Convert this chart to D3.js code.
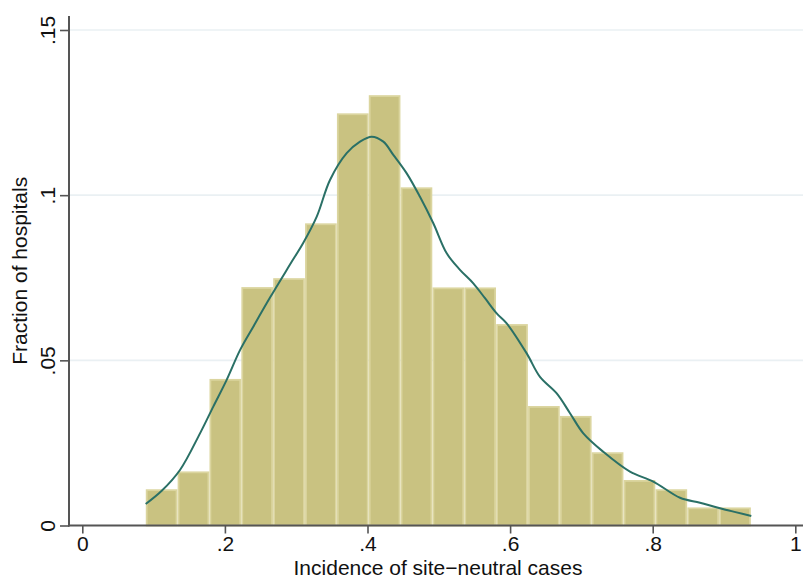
<!DOCTYPE html>
<html>
<head>
<meta charset="utf-8">
<script src="https://cdn.jsdelivr.net/npm/d3@7/dist/d3.min.js"></script>
<style>
  html, body { margin: 0; padding: 0; background: #fff; }
  svg { display: block; font-family: "Liberation Sans", Arial, Helvetica, sans-serif; }
</style>
</head>
<body>
<svg id="chart" width="803" height="579"></svg>
<script>
// Histogram of hospital-level incidence of site-neutral cases (fraction per bin)
const binStart = 0.0889;
const binWidth = 0.04468;
const binFractions = [
  0.0110, 0.0164, 0.0444, 0.0722, 0.0749, 0.0915, 0.1248, 0.1303, 0.1024, 0.0721,
  0.0721, 0.0610, 0.0362, 0.0332, 0.0222, 0.0138, 0.0110, 0.0055, 0.0055
];

// Kernel density overlay, scaled to the fraction axis
const densityX = [
  0.0889, 0.1114, 0.1370, 0.1651, 0.1837, 0.2025, 0.2212, 0.2398, 0.2633, 0.2913,
  0.3100, 0.3288, 0.3474, 0.3708, 0.3895, 0.4059, 0.4222, 0.4362, 0.4550, 0.4736,
  0.4923, 0.5111, 0.5297, 0.5484, 0.5648, 0.5812, 0.5952, 0.6233, 0.6419, 0.6654,
  0.6840, 0.7027, 0.7307, 0.7681, 0.8008, 0.8383, 0.8663, 0.8944, 0.9383
];
const densityY = [
  0.0065, 0.0105, 0.0168, 0.0279, 0.0360, 0.0441, 0.0531, 0.0602, 0.0690, 0.0790,
  0.0856, 0.0935, 0.1046, 0.1127, 0.1162, 0.1177, 0.1162, 0.1122, 0.1066, 0.0995,
  0.0915, 0.0824, 0.0774, 0.0733, 0.0688, 0.0642, 0.0612, 0.0521, 0.0450, 0.0400,
  0.0340, 0.0279, 0.0223, 0.0163, 0.0133, 0.0084, 0.0069, 0.0052, 0.0029
];

const xTicks = [0, 0.2, 0.4, 0.6, 0.8, 1];
const xTickLabels = ["0", ".2", ".4", ".6", ".8", "1"];
const yTicks = [0, 0.05, 0.1, 0.15];
const yTickLabels = ["0", ".05", ".1", ".15"];

const xTitle = "Incidence of site\u2212neutral cases";
const yTitle = "Fraction of hospitals";

const svg = d3.select("#chart");
const plot = { left: 69, right: 803, top: 16, bottom: 525.5 };
const fontSize = "21px";

const x = d3.scaleLinear().domain([0, 1]).range([82.3, 795.3]);
const y = d3.scaleLinear().domain([0, 0.15]).range([525.5, 30]);

// Horizontal gridlines
svg.append("g")
  .selectAll("line")
  .data(yTicks.filter(d => d > 0))
  .join("line")
  .attr("x1", plot.left)
  .attr("x2", plot.right)
  .attr("y1", d => y(d))
  .attr("y2", d => y(d))
  .attr("stroke", "#eaf0f3")
  .attr("stroke-width", 1.6);

// Histogram bars
const bins = binFractions.map((v, i) => ({
  x0: binStart + i * binWidth,
  x1: binStart + (i + 1) * binWidth,
  v
}));
svg.append("g")
  .selectAll("rect")
  .data(bins)
  .join("rect")
  .attr("x", d => x(d.x0) + 1)
  .attr("y", d => y(d.v) + 1)
  .attr("width", d => x(d.x1) - x(d.x0) - 2)
  .attr("height", d => y(0) - y(d.v) - 1)
  .attr("fill", "#c9c281")
  .attr("stroke", "#dbd59f")
  .attr("stroke-width", 1.8);

// Density curve
const line = d3.line()
  .x(d => x(d[0]))
  .y(d => y(d[1]))
  .curve(d3.curveCatmullRom.alpha(0.5));
svg.append("path")
  .datum(densityX.map((v, i) => [v, densityY[i]]))
  .attr("d", line)
  .attr("fill", "none")
  .attr("stroke", "#2a7066")
  .attr("stroke-width", 2);

// X axis
const xAxis = svg.append("g")
  .attr("transform", `translate(0,${plot.bottom})`)
  .call(d3.axisBottom(x)
    .tickValues(xTicks)
    .tickFormat((d, i) => xTickLabels[i])
    .tickSize(8)
    .tickSizeOuter(0)
    .tickPadding(3));
xAxis.select(".domain").remove();
xAxis.selectAll(".tick line").attr("stroke", "#555").attr("stroke-width", 1.6);
xAxis.selectAll(".tick text")
  .attr("fill", "#111")
  .style("font-size", fontSize)
  .style("font-family", "Liberation Sans, Arial, sans-serif");
xAxis.append("line")
  .attr("x1", plot.left - 1)
  .attr("x2", plot.right)
  .attr("stroke", "#555")
  .attr("stroke-width", 2);

// Y axis
const yAxis = svg.append("g")
  .attr("transform", `translate(${plot.left},0)`)
  .call(d3.axisLeft(y)
    .tickValues(yTicks)
    .tickFormat((d, i) => yTickLabels[i])
    .tickSize(9)
    .tickSizeOuter(0)
    .tickPadding(0));
yAxis.select(".domain").remove();
yAxis.selectAll(".tick line").attr("stroke", "#555").attr("stroke-width", 1.6);
yAxis.selectAll(".tick text")
  .attr("fill", "#111")
  .attr("x", 0)
  .attr("dy", 0)
  .attr("text-anchor", "middle")
  .attr("transform", "translate(-14,0) rotate(-90)")
  .style("font-size", fontSize)
  .style("font-family", "Liberation Sans, Arial, sans-serif");
yAxis.append("line")
  .attr("y1", plot.top)
  .attr("y2", plot.bottom + 1)
  .attr("stroke", "#555")
  .attr("stroke-width", 2);

// Axis titles
svg.append("text")
  .attr("x", (plot.left + plot.right) / 2 + 2)
  .attr("y", 575)
  .attr("text-anchor", "middle")
  .attr("fill", "#111")
  .style("font-size", fontSize)
  .text(xTitle);

svg.append("text")
  .attr("transform", `translate(27,${(plot.top + plot.bottom) / 2}) rotate(-90)`)
  .attr("text-anchor", "middle")
  .attr("fill", "#111")
  .style("font-size", fontSize)
  .text(yTitle);
</script>
</body>
</html>
